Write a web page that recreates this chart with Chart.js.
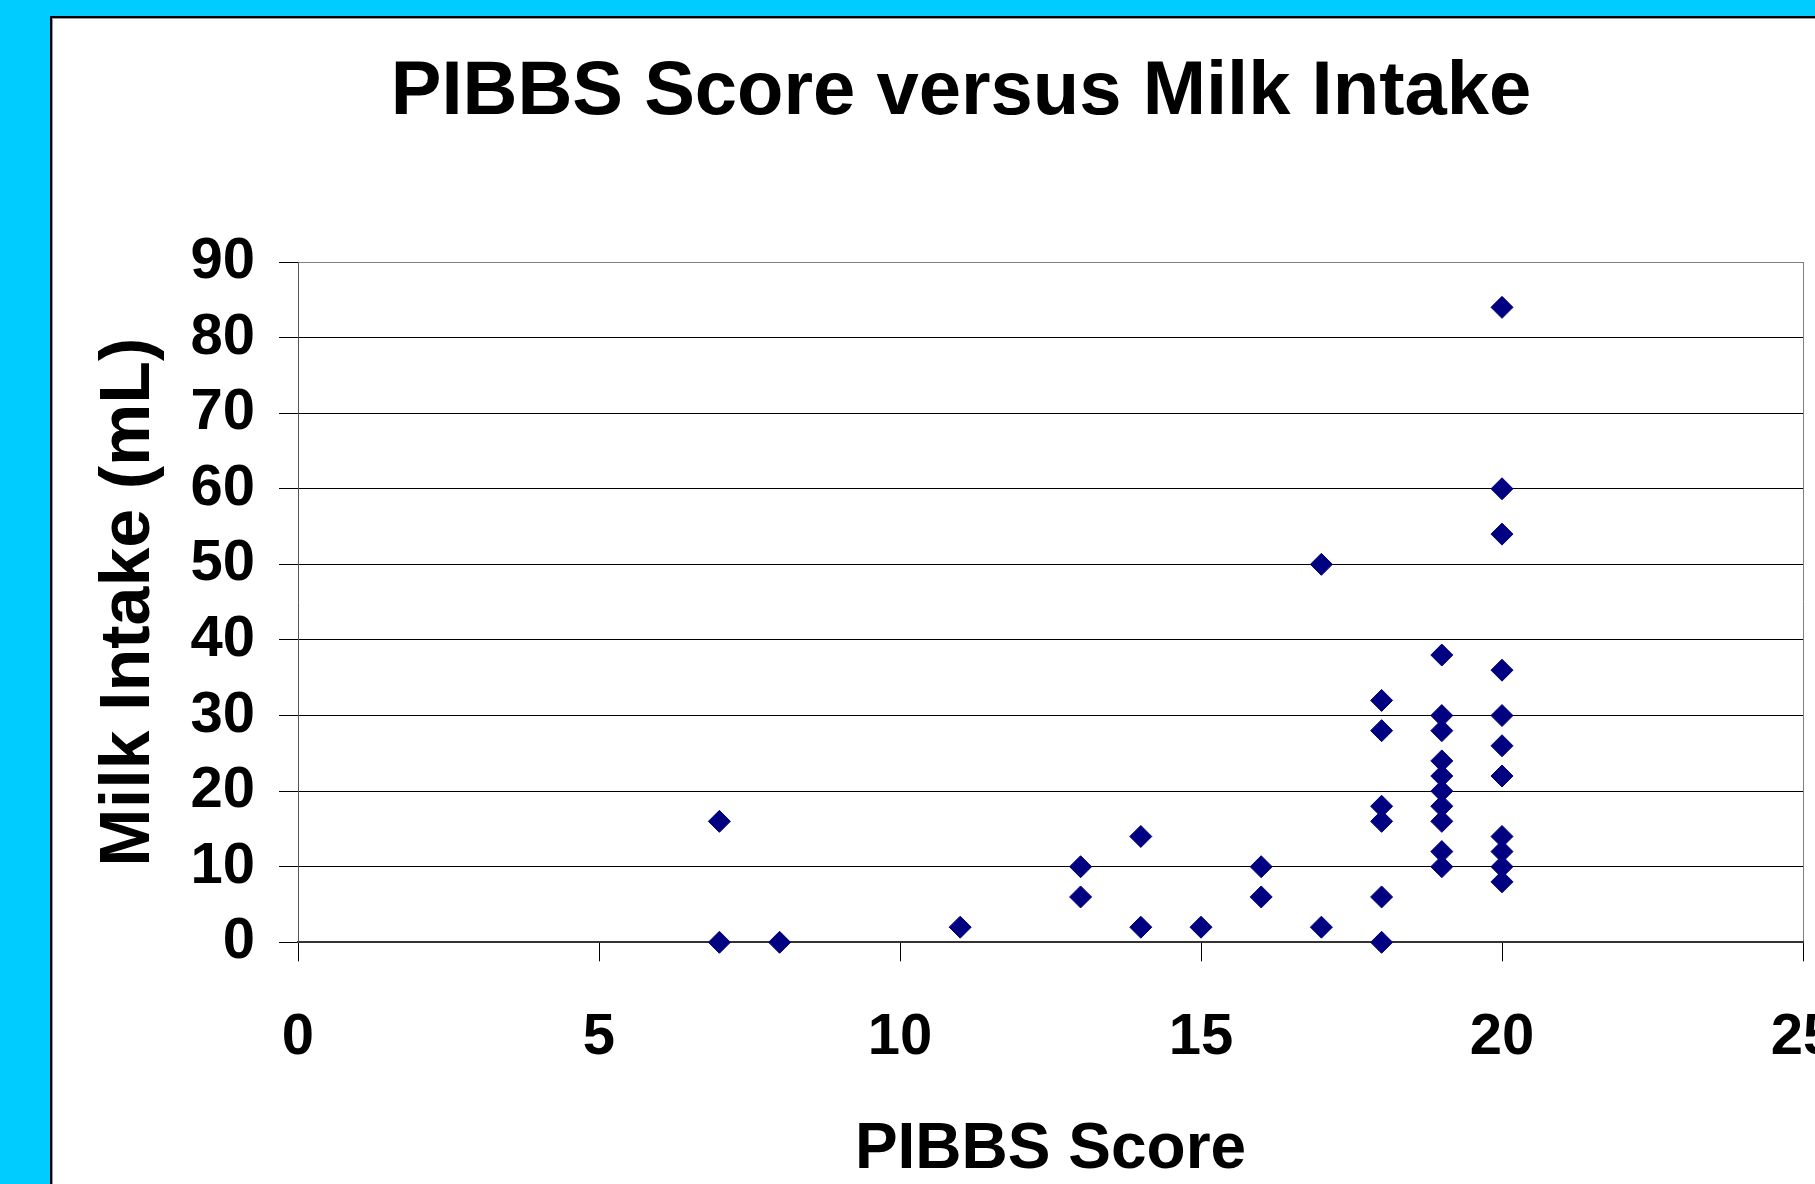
<!DOCTYPE html>
<html>
<head>
<meta charset="utf-8">
<title>PIBBS Score versus Milk Intake</title>
<script src="https://cdn.jsdelivr.net/npm/chart.js@4.4.0/dist/chart.umd.min.js"></script>
<style>
  html, body { margin: 0; padding: 0; width: 1815px; height: 1184px; overflow: hidden; background: #00ccff; }
  #panel { position: absolute; left: 50px; top: 16px; right: 0; bottom: 0; background: #fff;
           border-top: 2px solid #000; border-left: 2px solid #000; box-shadow: inset 1px 1px 0 #999; }
  #chart { position: absolute; left: 0; top: 0; }
</style>
</head>
<body>
<div id="panel"></div>
<canvas id="chart" width="1815" height="1184"></canvas>
<script>
// one entry per infant: PIBBS score and milk intake (mL)
const pibbsScore = [7, 7, 8, 11, 13, 13, 14, 14, 15, 16, 16, 17, 17,
    18, 18, 18, 18, 18, 18,
    19, 19, 19, 19, 19, 19, 19, 19, 19, 19,
    20, 20, 20, 20, 20, 20, 20, 20, 20, 20, 20];
const milkIntake = [16, 0, 0, 2, 10, 6, 14, 2, 2, 10, 6, 50, 2,
    32, 28, 18, 16, 6, 0,
    38, 30, 28, 24, 22, 20, 18, 16, 12, 10,
    84, 60, 54, 36, 30, 26, 22, 14, 12, 10, 8];

const xTickValues = [0, 5, 10, 15, 20, 25];
const yTickValues = [0, 10, 20, 30, 40, 50, 60, 70, 80, 90];

const FONT = "'Liberation Sans', Arial, sans-serif";
const tickFont = { family: FONT, size: 58, weight: 'bold', lineHeight: 1.2 };

new Chart(document.getElementById('chart'), {
    type: 'scatter',
    data: {
        datasets: [{
            label: 'Milk Intake',
            data: pibbsScore.map((x, i) => ({ x: x, y: milkIntake[i] })),
            pointStyle: 'rectRot',
            pointRadius: 11,
            pointBackgroundColor: '#000080',
            pointBorderColor: '#000080',
            pointBorderWidth: 1,
            clip: false
        }]
    },
    options: {
        responsive: false,
        animation: false,
        layout: { padding: { left: 118, right: 11, top: 0, bottom: 0 } },
        plugins: {
            legend: { display: false },
            tooltip: { enabled: false },
            title: {
                display: true,
                text: 'PIBBS Score versus Milk Intake',
                color: '#000',
                font: { family: FONT, size: 76, weight: 'bold', lineHeight: 1 },
                padding: { top: 55, bottom: 131 }
            }
        },
        scales: {
            x: {
                type: 'linear',
                min: 0,
                max: 25,
                afterBuildTicks: s => { s.ticks = xTickValues.map(v => ({ value: v })); },
                afterFit: s => { s.height = 241.7; s.paddingLeft = 0; s.paddingRight = 0; },
                ticks: { color: '#000', font: tickFont, padding: 41.5, maxRotation: 0, autoSkip: false },
                grid: {
                    drawOnChartArea: true,
                    color: ctx => (ctx.tick && ctx.tick.value === 25) ? '#808080' : 'rgba(0,0,0,0)',
                    tickColor: '#000',
                    tickLength: 19,
                    lineWidth: 1
                },
                border: { color: '#333', width: 2 },
                title: {
                    display: true,
                    text: 'PIBBS Score',
                    color: '#000',
                    font: { family: FONT, size: 64, weight: 'bold', lineHeight: 1 },
                    padding: { top: 0, bottom: 1.5 }
                }
            },
            y: {
                type: 'linear',
                min: 0,
                max: 90,
                afterBuildTicks: s => { s.ticks = yTickValues.map(v => ({ value: v })); },
                afterFit: s => { s.width = 180; },
                ticks: { color: '#000', font: tickFont, padding: 24, autoSkip: false },
                grid: {
                    color: ctx => (ctx.tick && ctx.tick.value === 90) ? '#808080' : '#000',
                    tickColor: '#000',
                    tickLength: 19,
                    lineWidth: 1
                },
                border: { color: '#555', width: 1 },
                title: {
                    display: true,
                    text: 'Milk Intake (mL)',
                    color: '#000',
                    font: { family: FONT, size: 70, weight: 'bold', lineHeight: 1 },
                    padding: { top: -22.8, bottom: 0 }
                }
            }
        }
    }
});
</script>
</body>
</html>
